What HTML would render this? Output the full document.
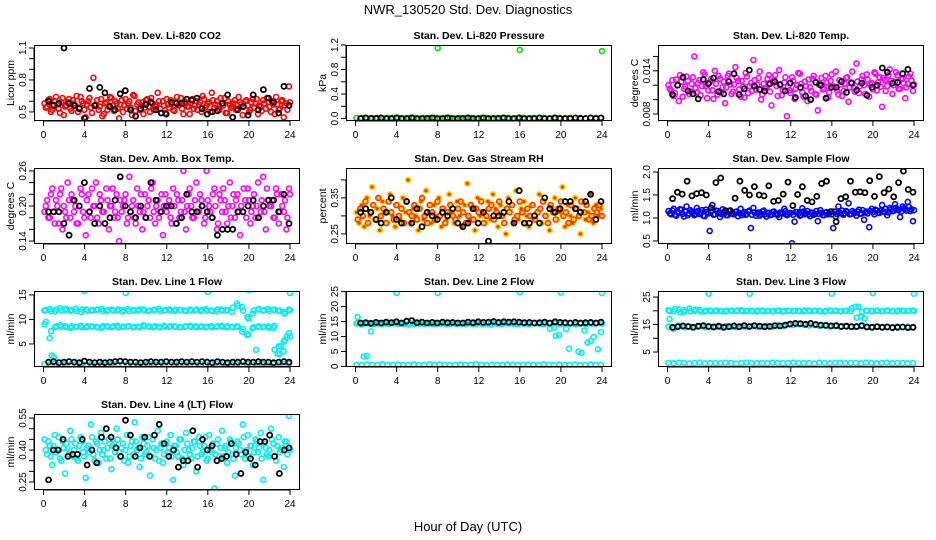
<!DOCTYPE html>
<html><head><meta charset="utf-8"><style>
body{margin:0;background:#fff}
svg{display:block;font-family:"Liberation Sans",sans-serif}
</style></head><body>
<svg id="chart" width="936" height="540" viewBox="0 0 936 540">
<rect width="936" height="540" fill="#fff"/>
<text x="468" y="14" font-size="13" text-anchor="middle">NWR_130520  Std. Dev. Diagnostics</text>
<text x="468" y="531" font-size="13" text-anchor="middle">Hour of Day (UTC)</text>
</svg>
<script>
const hourTicks=[0,4,8,12,16,20,24];
const co2Red=[0.58,0.55,0.62,0.52,0.60,0.57,0.49,0.63,0.55,0.59,0.53,0.61,0.56,0.50,0.64,0.58,0.45,0.60,0.54,0.82,0.57,0.52,0.62,0.48,0.59,0.55,0.63,0.51,0.58,0.44,0.61,0.56,0.53,0.60,0.47,0.65,0.57,0.52,0.59,0.54,0.62,0.50,0.58,0.55,0.68,0.53,0.60,0.49,0.57,0.61,0.52,0.59,0.56,0.63,0.48,0.58,0.55,0.61,0.53,0.60,0.57,0.50,0.62,0.56,0.59,0.68,0.54,0.60,0.52,0.58,0.63,0.49,0.57,0.55,0.61,0.53,0.59,0.47,0.60,0.56,0.52,0.62,0.58,0.48,0.55,0.61,0.53,0.59,0.50,0.57,0.64,0.52,0.60,0.45,0.58,0.74];
const co2Red2=[0.54,0.61,0.50,0.57,0.64,0.53,0.59,0.47,0.56,0.62,0.51,0.58,0.65,0.54,0.60,0.52,0.57,0.63,0.49,0.56,0.61,0.55,0.46,0.58,0.52,0.64,0.56,0.60,0.53,0.57,0.50,0.62,0.58,0.54,0.66,0.51,0.59,0.56,0.48,0.61,0.55,0.63,0.52,0.57,0.60,0.49,0.56,0.62,0.54,0.58,0.51,0.64,0.57,0.53,0.60,0.55,0.48,0.62,0.56,0.52,0.59,0.65,0.54,0.58,0.50,0.61,0.57,0.53,0.63,0.56,0.49,0.60,0.54,0.58,0.52,0.64,0.57,0.55,0.61,0.50,0.59,0.54,0.62,0.56,0.51,0.58,0.63,0.55,0.60,0.48,0.57,0.53,0.61,0.56,0.52,0.59];
const co2Black=[0.60,0.56,0.58,1.10,0.58,0.56,0.53,0.44,0.72,0.56,0.73,0.68,0.55,0.52,0.67,0.70,0.52,0.46,0.53,0.57,0.59,0.52,0.49,0.48,0.59,0.58,0.58,0.62,0.61,0.63,0.53,0.48,0.50,0.51,0.58,0.66,0.45,0.52,0.55,0.47,0.66,0.52,0.71,0.63,0.59,0.49,0.74,0.56];
const pressGreen=[0.01,0.01,0.00,0.01,0.01,0.00,0.01,0.01,0.01,0.00,0.01,0.01,0.00,0.01,0.01,0.01,0.00,0.01,0.01,0.00,0.01,0.01,0.01,0.00,0.01,0.01,0.00,0.01,0.01,0.01,0.00,0.01,0.01,0.00,0.01,0.01,0.01,0.00,0.01,0.01,0.00,0.01,0.01,0.01,0.00,0.01,0.01,0.01];
const pressBlack=[0.00,0.01,0.00,0.00,0.01,0.00,0.00,0.01,0.00,0.00,0.01,0.00,0.00,0.00,0.01,0.00,0.00,0.01,0.00,0.00,0.00,0.01,0.00,0.00,0.01,0.00,0.00,0.00,0.01,0.00,0.00,0.01,0.00,0.00,0.00,0.01,0.00,0.00,0.01,0.00,0.00,0.00,0.01,0.00,0.00,0.01,0.00,0.01];
const pressOutHours=[8,16,24];
const pressOutValues=[1.15,1.12,1.10];
const tempMagenta=[.0120,.0112,.0105,.0128,.0098,.0125,.0115,.0132,.0108,.0122,.0160,.0110,.0127,.0119,.0135,.0102,.0124,.0113,.0140,.0107,.0129,.0117,.0095,.0133,.0121,.0111,.0145,.0126,.0104,.0118,.0137,.0109,.0123,.0155,.0114,.0130,.0100,.0122,.0116,.0134,.0092,.0127,.0119,.0141,.0106,.0124,.0077,.0113,.0131,.0101,.0120,.0136,.0110,.0125,.0098,.0117,.0129,.0108,.0085,.0122,.0114,.0133,.0103,.0126,.0118,.0139,.0107,.0121,.0112,.0130,.0097,.0124,.0116,.0150,.0109,.0128,.0120,.0135,.0104,.0123,.0138,.0113,.0131,.0090,.0127,.0119,.0142,.0108,.0125,.0134,.0115,.0129,.0102,.0122,.0136,.0112];
const tempMagenta2=[.0115,.0127,.0109,.0120,.0134,.0104,.0118,.0126,.0111,.0131,.0116,.0123,.0106,.0138,.0119,.0113,.0128,.0101,.0122,.0133,.0110,.0125,.0117,.0136,.0108,.0121,.0130,.0114,.0126,.0103,.0132,.0119,.0112,.0127,.0121,.0139,.0107,.0116,.0129,.0111,.0124,.0134,.0105,.0120,.0113,.0131,.0118,.0109,.0126,.0115,.0137,.0122,.0104,.0119,.0128,.0112,.0133,.0107,.0121,.0130,.0116,.0124,.0110,.0135,.0118,.0113,.0127,.0105,.0122,.0131,.0117,.0139,.0111,.0125,.0119,.0133,.0108,.0128,.0121,.0114,.0136,.0124,.0118,.0130,.0112,.0134,.0126,.0120,.0138,.0115,.0129,.0123,.0117,.0132,.0127,.0121];
const tempBlack=[.0107,.0120,.0131,.0112,.0108,.0101,.0128,.0122,.0130,.0111,.0108,.0125,.0136,.0107,.0115,.0141,.0119,.0114,.0112,.0122,.0125,.0121,.0112,.0123,.0103,.0117,.0105,.0100,.0124,.0120,.0102,.0117,.0117,.0125,.0110,.0123,.0113,.0123,.0106,.0117,.0120,.0144,.0138,.0123,.0124,.0136,.0142,.0120];
const ambMagenta=[0.19,0.21,0.18,0.23,0.17,0.20,0.22,0.16,0.19,0.24,0.18,0.21,0.20,0.17,0.23,0.19,0.15,0.22,0.18,0.20,0.24,0.17,0.21,0.19,0.23,0.16,0.20,0.18,0.22,0.14,0.19,0.21,0.17,0.25,0.20,0.18,0.23,0.19,0.16,0.22,0.20,0.18,0.24,0.17,0.21,0.19,0.15,0.22,0.20,0.18,0.23,0.17,0.21,0.19,0.26,0.16,0.22,0.20,0.18,0.24,0.19,0.21,0.17,0.26,0.20,0.18,0.23,0.16,0.22,0.19,0.21,0.17,0.24,0.20,0.18,0.22,0.15,0.19,0.21,0.23,0.17,0.20,0.18,0.24,0.19,0.25,0.16,0.21,0.20,0.18,0.23,0.17,0.22,0.19,0.16,0.23];
const ambMagenta2=[0.20,0.18,0.22,0.19,0.21,0.17,0.23,0.20,0.18,0.21,0.22,0.19,0.17,0.20,0.22,0.18,0.21,0.19,0.23,0.20,0.18,0.22,0.19,0.17,0.21,0.20,0.23,0.19,0.18,0.21,0.20,0.22,0.18,0.19,0.21,0.17,0.20,0.22,0.19,0.18,0.21,0.23,0.19,0.20,0.18,0.22,0.20,0.19,0.21,0.17,0.20,0.22,0.18,0.21,0.19,0.20,0.23,0.18,0.21,0.19,0.22,0.20,0.18,0.21,0.19,0.22,0.20,0.17,0.21,0.23,0.19,0.20,0.18,0.22,0.21,0.19,0.20,0.23,0.18,0.21,0.19,0.22,0.20,0.18,0.21,0.19,0.23,0.20,0.21,0.18,0.22,0.19,0.20,0.21,0.18,0.22];
const ambBlack=[0.19,0.19,0.19,0.17,0.15,0.21,0.20,0.24,0.19,0.17,0.20,0.17,0.18,0.21,0.25,0.20,0.19,0.18,0.20,0.18,0.24,0.21,0.19,0.20,0.20,0.17,0.18,0.22,0.19,0.19,0.20,0.19,0.18,0.15,0.16,0.16,0.16,0.19,0.19,0.20,0.21,0.18,0.20,0.21,0.21,0.19,0.22,0.17];
const rhOrange=[0.31,0.28,0.33,0.27,0.35,0.30,0.38,0.29,0.32,0.26,0.34,0.31,0.28,0.36,0.30,0.27,0.33,0.29,0.35,0.31,0.40,0.28,0.32,0.30,0.26,0.34,0.29,0.37,0.31,0.28,0.33,0.30,0.35,0.27,0.32,0.29,0.36,0.31,0.28,0.34,0.30,0.27,0.33,0.39,0.29,0.32,0.26,0.35,0.30,0.31,0.28,0.34,0.29,0.36,0.32,0.27,0.33,0.30,0.25,0.35,0.31,0.28,0.37,0.29,0.32,0.34,0.30,0.27,0.33,0.29,0.31,0.36,0.28,0.34,0.30,0.26,0.32,0.35,0.29,0.31,0.38,0.27,0.33,0.30,0.28,0.35,0.32,0.25,0.34,0.29,0.31,0.36,0.28,0.33,0.30,0.32];
const rhOrange2=[0.29,0.32,0.30,0.34,0.28,0.31,0.33,0.29,0.35,0.30,0.32,0.28,0.34,0.31,0.29,0.33,0.30,0.32,0.28,0.34,0.31,0.30,0.33,0.29,0.32,0.35,0.30,0.28,0.33,0.31,0.29,0.34,0.30,0.32,0.28,0.31,0.33,0.30,0.29,0.32,0.34,0.31,0.28,0.30,0.33,0.29,0.32,0.31,0.34,0.28,0.30,0.32,0.33,0.29,0.31,0.34,0.30,0.28,0.32,0.31,0.33,0.29,0.30,0.34,0.31,0.28,0.32,0.30,0.33,0.29,0.31,0.32,0.34,0.30,0.28,0.33,0.31,0.29,0.32,0.34,0.30,0.31,0.28,0.33,0.29,0.32,0.30,0.34,0.31,0.33,0.29,0.30,0.32,0.31,0.33,0.30];
const rhBlack=[0.31,0.32,0.31,0.29,0.28,0.31,0.35,0.29,0.28,0.34,0.28,0.32,0.27,0.31,0.30,0.29,0.31,0.30,0.32,0.28,0.27,0.28,0.32,0.28,0.31,0.23,0.30,0.30,0.31,0.34,0.28,0.37,0.28,0.28,0.30,0.28,0.35,0.32,0.31,0.32,0.34,0.34,0.32,0.31,0.34,0.36,0.29,0.34];
const flowBlue=[1.15,1.08,1.20,1.05,1.12,1.18,1.03,1.25,1.10,1.14,1.06,1.22,1.09,1.17,1.04,1.13,0.72,1.28,1.08,1.15,1.02,1.19,1.11,1.06,1.16,1.09,1.13,1.04,1.20,1.10,1.07,1.14,0.78,1.22,1.05,1.12,1.09,1.16,1.03,1.11,1.07,1.14,1.08,1.02,1.12,1.20,1.06,1.10,0.45,0.92,1.13,1.05,1.21,1.08,1.15,1.04,1.11,1.09,0.93,1.17,1.06,1.12,1.08,1.14,0.78,1.03,1.25,1.10,1.07,1.15,1.32,1.09,1.12,1.05,1.18,1.10,0.96,1.14,0.80,1.20,1.08,1.16,1.11,1.28,1.13,1.06,1.22,1.15,1.30,1.18,1.02,1.25,1.20,1.35,1.15,0.93];
const flowBlue2=[1.10,1.16,1.07,1.13,1.19,1.09,1.14,1.06,1.17,1.11,1.08,1.15,1.12,1.05,1.18,1.10,1.14,1.07,1.16,1.11,1.09,1.13,1.06,1.15,1.10,1.08,1.14,1.11,1.06,1.13,1.09,1.16,1.07,1.12,1.10,1.05,1.14,1.08,1.11,1.06,1.13,1.09,1.07,1.12,1.10,1.15,1.08,1.11,1.07,1.13,1.09,1.06,1.14,1.10,1.08,1.12,1.07,1.15,1.09,1.11,1.06,1.13,1.10,1.08,1.14,1.09,1.12,1.16,1.10,1.13,1.08,1.15,1.11,1.14,1.09,1.17,1.12,1.10,1.15,1.13,1.18,1.11,1.16,1.14,1.20,1.12,1.18,1.15,1.22,1.17,1.14,1.21,1.16,1.24,1.19,1.17];
const flowBlack=[1.42,1.56,1.52,1.80,1.48,1.53,1.55,1.50,1.22,1.77,1.87,1.16,1.16,1.43,1.80,1.60,1.50,1.68,1.50,1.48,1.70,1.36,1.38,1.52,1.78,1.27,1.51,1.68,1.38,1.35,1.47,1.75,1.80,1.14,0.92,1.42,1.46,1.80,1.56,1.57,1.55,1.81,1.47,1.90,1.55,1.63,1.46,1.77,2.02,1.62,1.56];
const l1Top=[11.8,12.1,11.6,12.3,11.9,11.7,12.2,11.5,12.0,11.8,11.9,12.1,11.7,12.0,11.8,11.6,12.1,11.9,11.8,12.0,11.7,11.9,12.1,11.8,12.0,11.7,11.9,11.8,12.0,11.9,11.7,12.1,11.8,11.6,12.0,11.9,11.5,13.2,12.5,10.5,11.2,12.0,11.8,12.1,11.9,11.7,11.5,12.0];
const l1Top2=[11.9,11.7,12.0,11.8,12.1,11.9,11.7,12.0,11.8,11.9,12.0,11.7,11.9,11.8,12.0,11.9,11.7,11.8,12.0,11.9,11.8,12.0,11.7,11.9,11.8,12.0,11.9,11.7,11.8,12.0,11.9,11.8,11.7,12.0,11.8,11.9,12.4,12.8,11.8,10.2,11.8,12.1,11.9,11.7,12.0,11.8,11.2,11.9];
const l1Mid=[9.0,6.2,8.4,8.8,8.6,8.3,8.5,8.7,8.4,8.6,8.5,8.3,8.6,8.4,8.7,8.5,8.6,8.4,8.5,8.8,8.6,8.4,8.5,8.7,8.5,8.6,8.4,8.5,8.7,8.6,8.5,8.4,8.6,8.5,8.7,8.4,8.5,8.6,7.5,6.8,8.2,8.5,8.4,8.6,8.3,4.5,3.5,7.2];
const l1Mid2=[9.5,7.6,8.6,8.5,8.4,8.6,8.5,8.4,8.6,8.5,8.4,8.6,8.5,8.6,8.4,8.5,8.6,8.5,8.4,8.6,8.5,8.6,8.4,8.5,8.6,8.5,8.4,8.6,8.5,8.4,8.6,8.5,8.4,8.6,8.5,8.6,8.4,8.5,8.0,7.0,8.4,8.6,8.5,8.3,8.7,3.0,5.8,6.5];
const l1Low=[0.9,0.8,1.0,0.7,0.9,0.8,0.9,1.0,0.8,0.9,0.7,0.9,0.8,1.0,0.9,0.8,0.9,0.7,0.9,0.8,1.0,0.9,0.8,0.9,0.8,0.9,1.0,0.8,0.9,0.7,0.9,0.8,0.9,1.0,0.8,0.9,0.8,0.9,0.7,0.9,0.8,1.0,0.9,0.8,0.9,0.8,0.9,1.0];
const l1Black=[1.3,1.4,1.2,1.3,1.4,1.3,1.2,1.5,1.3,1.2,1.3,1.2,1.3,1.4,1.5,1.4,1.3,1.3,1.2,1.3,1.4,1.3,1.3,1.4,1.3,1.3,1.4,1.3,1.4,1.3,1.4,1.3,1.2,1.4,1.3,1.2,1.3,1.3,1.4,1.3,1.3,1.4,1.3,1.3,1.2,1.3,1.4,1.3];
const l1OutHours=[4,8,16,20,24,0.8,1.0,20.7,22.5,22.8,23.1,23.4,23.7];
const l1OutValues=[15.8,15.4,15.6,16.0,15.4,2.6,2.3,3.8,3.8,3.0,4.5,5.5,6.5];
const l2Band=[14.3,14.0,14.5,14.2,14.4,14.1,14.3,14.6,14.2,14.4,14.0,14.3,14.5,14.2,14.4,14.1,14.3,14.5,14.2,14.4,14.3,14.1,14.5,14.2,14.4,14.3,14.0,14.5,14.2,14.4,14.3,14.1,14.4,14.2,14.5,14.3,14.1,14.4,13.0,14.2,14.3,14.4,14.1,14.3,14.2,14.4,14.3,14.5];
const l2Band2=[14.6,14.2,14.4,14.1,14.3,14.5,14.2,14.4,14.3,14.1,14.5,14.2,14.3,14.4,14.2,14.5,14.3,14.1,14.4,14.2,14.5,14.3,14.2,14.4,14.1,14.3,14.5,14.2,14.4,14.3,14.2,14.5,14.3,14.1,14.4,14.2,14.3,12.6,14.4,14.2,14.5,14.3,14.1,14.4,14.2,14.3,14.5,14.3];
const l2Low=[0.5,0.4,0.6,0.5,0.5,0.7,0.5,0.4,0.6,0.5,0.5,0.6,0.4,0.5,0.7,0.5,0.6,0.5,0.4,0.5,0.6,0.5,0.5,0.7,0.5,0.4,0.6,0.5,0.5,0.6,0.5,0.4,0.5,0.6,0.5,0.5,0.7,0.5,0.4,0.6,0.5,0.5,0.6,0.4,0.5,0.6,0.5,0.5];
const l2Black=[14.5,14.6,14.4,14.7,14.5,14.8,14.6,14.9,14.5,15.1,15.3,14.6,14.8,14.5,14.7,14.5,14.8,14.6,14.7,14.5,14.5,14.8,14.6,14.9,14.7,14.8,15.0,14.7,14.9,14.8,14.9,14.8,14.6,14.7,14.5,14.6,14.8,14.5,14.9,14.7,14.6,14.5,14.7,14.5,14.6,14.7,14.5,14.8];
const l2OutHours=[4,8,16,20,24,0.2,0.8,1.1,1.5,19.5,19.8,20.5,20.8,21.7,22.0,22.3,22.6,22.9,23.2,23.6,23.9];
const l2OutValues=[24.5,24.5,24.8,24.7,24.5,16.5,3.3,3.5,11.7,10.2,10.5,12.5,5.9,4.9,4.5,12.0,8.0,8.5,9.8,5.7,11.5];
const l3Top=[20.2,19.8,20.5,19.6,20.8,19.9,20.3,19.7,20.1,19.8,20.0,19.7,20.1,19.9,20.2,19.8,20.0,19.7,20.1,19.9,19.8,20.0,19.7,20.1,19.9,20.0,19.8,20.1,19.9,20.0,19.7,20.1,19.9,19.8,20.0,19.9,21.5,18.0,20.1,19.9,20.0,19.8,20.1,19.9,19.8,20.0,19.9,20.1];
const l3Top2=[19.9,20.6,19.5,20.2,19.8,20.4,19.7,20.0,19.9,20.1,19.8,20.0,19.9,20.1,19.8,20.0,19.9,20.1,19.8,20.0,19.9,20.1,19.8,20.0,19.9,19.8,20.1,19.9,20.0,19.8,20.0,19.9,20.1,19.8,20.0,20.9,17.5,19.6,20.0,19.8,20.1,19.9,20.0,19.8,20.1,19.9,20.0,19.9];
const l3Mid=[14.2,13.5,14.6,14.0,14.3,14.1,14.4,14.0,14.3,14.2,14.1,14.4,14.2,14.0,14.3,14.1,14.4,14.2,14.3,14.5,14.2,14.6,14.4,15.0,14.8,15.1,15.0,14.7,14.8,14.5,14.6,14.3,14.5,14.2,14.4,14.3,14.1,14.4,14.2,14.0,14.3,14.1,14.2,14.0,14.3,14.1,14.2,14.0];
const l3Low=[1.0,0.9,1.1,1.0,0.8,1.0,1.1,0.9,1.0,1.0,0.9,1.1,1.0,0.8,1.0,1.1,0.9,1.0,1.0,0.9,1.1,1.0,0.9,1.0,1.1,0.9,1.0,1.0,0.8,1.1,1.0,0.9,1.0,1.1,0.9,1.0,1.0,0.9,1.1,1.0,0.9,1.0,1.1,0.9,1.0,1.0,0.9,1.0];
const l3Black=[14.0,14.2,14.5,14.3,14.0,14.4,14.6,14.3,14.1,14.4,14.0,14.2,14.5,14.2,14.6,14.3,14.6,14.4,14.2,14.3,14.6,14.5,14.8,15.2,15.4,15.3,15.1,15.4,15.0,14.8,14.7,14.5,14.6,14.3,14.4,14.2,14.3,14.6,14.1,14.0,14.2,14.0,14.1,13.9,14.0,14.1,13.9,14.0];
const l3OutHours=[4,8,16,20,24,0.2,18.6,18.9,19.2];
const l3OutValues=[26.2,26.2,26.2,26.4,26.2,17.0,21.5,18.0,17.2];
const l4Cyan=[0.45,0.38,0.42,0.33,0.47,0.40,0.36,0.44,0.29,0.41,0.49,0.37,0.43,0.35,0.46,0.39,0.27,0.42,0.52,0.38,0.44,0.34,0.48,0.40,0.36,0.45,0.31,0.43,0.50,0.39,0.41,0.35,0.47,0.37,0.44,0.53,0.40,0.32,0.46,0.38,0.42,0.28,0.45,0.36,0.49,0.41,0.34,0.43,0.39,0.47,0.26,0.42,0.37,0.45,0.33,0.48,0.40,0.36,0.44,0.30,0.46,0.38,0.42,0.35,0.47,0.39,0.22,0.43,0.37,0.49,0.41,0.34,0.45,0.38,0.28,0.44,0.40,0.52,0.36,0.47,0.42,0.33,0.45,0.39,0.48,0.26,0.41,0.37,0.50,0.43,0.35,0.46,0.40,0.32,0.44,0.56];
const l4Cyan2=[0.40,0.44,0.37,0.42,0.39,0.46,0.35,0.41,0.43,0.38,0.45,0.40,0.36,0.42,0.44,0.37,0.41,0.39,0.46,0.35,0.43,0.40,0.38,0.44,0.41,0.36,0.42,0.39,0.45,0.37,0.43,0.40,0.34,0.42,0.38,0.44,0.41,0.36,0.43,0.39,0.46,0.37,0.41,0.40,0.35,0.43,0.38,0.44,0.41,0.37,0.42,0.39,0.45,0.36,0.40,0.43,0.38,0.41,0.44,0.37,0.42,0.39,0.46,0.36,0.40,0.43,0.38,0.45,0.41,0.37,0.42,0.39,0.44,0.36,0.41,0.43,0.38,0.46,0.40,0.37,0.42,0.39,0.44,0.41,0.36,0.43,0.38,0.40,0.45,0.37,0.42,0.39,0.41,0.44,0.38,0.40];
const l4Black=[0.26,0.40,0.40,0.45,0.37,0.38,0.38,0.45,0.33,0.40,0.34,0.46,0.50,0.46,0.41,0.37,0.54,0.47,0.37,0.41,0.46,0.37,0.47,0.52,0.43,0.37,0.40,0.32,0.35,0.35,0.49,0.32,0.45,0.40,0.42,0.35,0.36,0.37,0.43,0.38,0.29,0.39,0.36,0.33,0.44,0.44,0.47,0.37,0.29,0.40,0.41];

const NS='http://www.w3.org/2000/svg';
const svg=document.getElementById('chart');
const colX=[34,346,658], rowY=[45,168,291,414], W=266, H=76;
function mk(tag,attrs,parent){const e=document.createElementNS(NS,tag);for(const k in attrs)e.setAttribute(k,attrs[k]);(parent||svg).appendChild(e);return e;}
function spread(vals,h0,h1){return vals.map((v,i)=>h0+(h1-h0)*i/(vals.length-1));}
const CY='#00eeee';
const panels=[
 {id:'co2',title:'Stan. Dev. Li-820 CO2',yl:'Licor ppm',c:0,r:0,ymin:0.415,ymax:1.128,ticks:[0.5,0.6,0.7,0.8,0.9,1.0,1.1],labels:[0.5,0.8,1.1],dec:1,
  series:[{y:co2Red,col:'#ff0000'},{y:co2Red2,col:'#ff0000',o:1},{y:co2Black,col:'#000',b:1}]},
 {id:'pressure',title:'Stan. Dev. Li-820 Pressure',yl:'kPa',c:1,r:0,ymin:-0.04,ymax:1.2,ticks:[0,0.2,0.4,0.6,0.8,1.0,1.2],labels:[0,0.4,0.8,1.2],dec:1,
  series:[{y:pressGreen,col:'#00e000'},{y:pressBlack,col:'#000',b:1},{x:pressOutHours,y:pressOutValues,col:'#00e000'}]},
 {id:'temp',title:'Stan. Dev. Li-820 Temp.',yl:'degrees C',c:2,r:0,ymin:0.00703,ymax:0.01759,ticks:[0.008,0.010,0.012,0.014,0.016],labels:[0.008,0.014],dec:3,
  series:[{y:tempMagenta,col:'#ff00ff'},{y:tempMagenta2,col:'#ff00ff',o:1},{y:tempBlack,col:'#000',b:1}]},
 {id:'ambbox',title:'Stan. Dev. Amb. Box Temp.',yl:'degrees C',c:0,r:1,ymin:0.135,ymax:0.265,ticks:[0.14,0.16,0.18,0.20,0.22,0.24,0.26],labels:[0.14,0.20,0.26],dec:2,
  series:[{y:ambMagenta,col:'#ff00ff'},{y:ambMagenta2,col:'#ff00ff',o:1},{y:ambBlack,col:'#000',b:1}]},
 {id:'rh',title:'Stan. Dev. Gas Stream RH',yl:'percent',c:1,r:1,ymin:0.222,ymax:0.433,ticks:[0.25,0.30,0.35,0.40],labels:[0.25,0.35],dec:2,
  series:[{y:rhOrange,col:'#ffdd00',fill:'#ff3300'},{y:rhOrange2,col:'#ff3300',fill:'#ffdd00',o:1},{y:rhBlack,col:'#000',b:1}]},
 {id:'sampleflow',title:'Stan. Dev. Sample Flow',yl:'ml/min',c:2,r:1,ymin:0.435,ymax:2.087,ticks:[0.5,1.0,1.5,2.0],labels:[0.5,1.0,1.5,2.0],dec:1,
  series:[{y:flowBlue,col:'#0000ff'},{y:flowBlue2,col:'#0000ff',o:1},{y:flowBlack,col:'#000',b:1}]},
 {id:'line1',title:'Stan. Dev. Line 1 Flow',yl:'ml/min',c:0,r:2,ymin:0.3,ymax:15.8,ticks:[5,10,15],labels:[5,10,15],dec:0,
  series:[{y:l1Top,col:CY},{y:l1Top2,col:CY,o:1},{y:l1Mid,col:CY},{y:l1Mid2,col:CY,o:1},{y:l1Low,col:CY},{x:l1OutHours,y:l1OutValues,col:CY},{y:l1Black,col:'#000',b:1}]},
 {id:'line2',title:'Stan. Dev. Line 2 Flow',yl:'ml/min',c:1,r:2,ymin:-0.2,ymax:25.2,ticks:[0,5,10,15,20,25],labels:[0,5,10,15,20,25],dec:0,
  series:[{y:l2Band,col:CY},{y:l2Band2,col:CY,o:1},{y:l2Low,col:CY},{x:l2OutHours,y:l2OutValues,col:CY},{y:l2Black,col:'#000',b:1}]},
 {id:'line3',title:'Stan. Dev. Line 3 Flow',yl:'ml/min',c:2,r:2,ymin:-0.45,ymax:27.2,ticks:[5,10,15,20,25],labels:[5,15,25],dec:0,
  series:[{y:l3Top,col:CY},{y:l3Top2,col:CY,o:1},{y:l3Mid,col:CY},{y:l3Low,col:CY},{x:l3OutHours,y:l3OutValues,col:CY},{y:l3Black,col:'#000',b:1}]},
 {id:'line4',title:'Stan. Dev. Line 4 (LT) Flow',yl:'ml/min',c:0,r:3,ymin:0.2126,ymax:0.569,ticks:[0.25,0.30,0.35,0.40,0.45,0.50,0.55],labels:[0.25,0.40,0.55],dec:2,
  series:[{y:l4Cyan,col:CY},{y:l4Cyan2,col:CY,o:1},{y:l4Black,col:'#000',b:1}]}
];

panels.forEach(p=>{
  const x0=colX[p.c], y0=rowY[p.r];
  const g=mk('g',{});
  
  
  const sx=h=>x0+9.5+h*246.5/24;
  const sy=v=>y0+H-(v-p.ymin)/(p.ymax-p.ymin)*H;
  const t=mk('text',{x:x0+W/2,y:y0-6,'font-size':10.5,'font-weight':'bold','text-anchor':'middle'},g);
  t.textContent=p.title;
  
  
  const clip=mk('clipPath',{id:'clip-'+p.id},g);
  mk('rect',{x:x0,y:y0,width:W,height:H},clip);
  const pts=mk('g',{'clip-path':'url(#clip-'+p.id+')'},g);
  p.series.forEach(s=>{
    const hrs=s.x||(s.b?spread(s.y,0.5,23.9):(s.o?spread(s.y,0.22,24.0):spread(s.y,0.1,23.9)));
    s.y.forEach((v,i)=>{
      const c=mk('circle',{cx:sx(hrs[i]).toFixed(1),cy:sy(v).toFixed(1),r:2.5,fill:s.fill||'none',stroke:s.col,'stroke-width':s.b?1.8:1.6},pts);
      
      
    });
  });
  const box=mk('rect',{x:x0+0.5,y:y0+0.5,width:W-1,height:H-1,fill:'none',stroke:'#000','stroke-width':1},g);
  
  
  mk('line',{x1:sx(0),x2:sx(24),y1:y0+H,y2:y0+H,stroke:'#000'},g);
  hourTicks.forEach(h=>{
    mk('line',{x1:sx(h),x2:sx(h),y1:y0+H,y2:y0+H+5,stroke:'#000'},g);
    const tl=mk('text',{x:sx(h),y:y0+H+17,'font-size':10,'text-anchor':'middle'},g);
    tl.textContent=h;
    
    
  });
  mk('line',{x1:x0,x2:x0,y1:sy(p.ticks[0]),y2:sy(p.ticks[p.ticks.length-1]),stroke:'#000'},g);
  p.ticks.forEach(v=>{mk('line',{x1:x0-5,x2:x0,y1:sy(v),y2:sy(v),stroke:'#000'},g);});
  p.labels.forEach(v=>{
    const yy=sy(v);
    const tl=mk('text',{x:x0-8,y:yy,'font-size':10,'text-anchor':'middle',transform:'rotate(-90 '+(x0-8)+' '+yy+')'},g);
    tl.textContent=v.toFixed(p.dec);
    
    
  });
  const yt=mk('text',{x:x0-20,y:y0+H/2,'font-size':10.5,'text-anchor':'middle',transform:'rotate(-90 '+(x0-20)+' '+(y0+H/2)+')'},g);
  yt.textContent=p.yl;
  
  
});
</script>
</body></html>
